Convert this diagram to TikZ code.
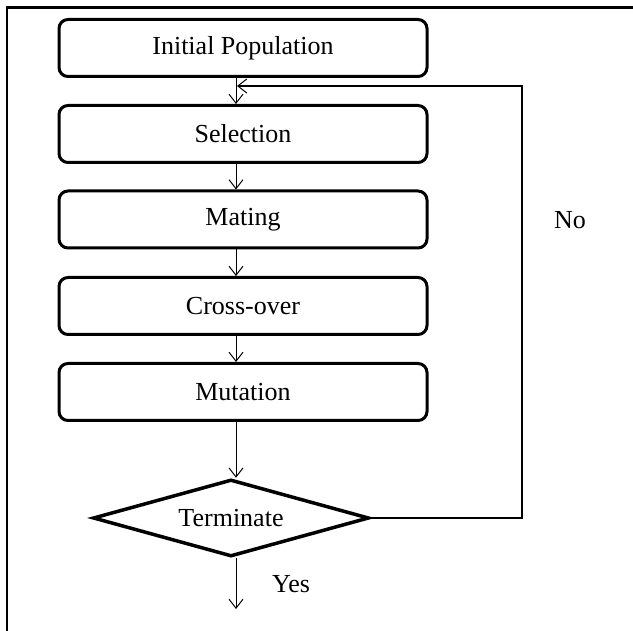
\documentclass[tikz,border=0pt]{standalone}
\usepackage{fontspec}
\setmainfont{Liberation Serif}
\usetikzlibrary{shapes.geometric,arrows.meta}
\begin{document}
\begin{tikzpicture}[x=1pt,y=-1pt,
  txt/.style={font=\fontsize{26}{30}\selectfont},
  stepbox/.style={draw,txt,line width=3pt,rounded corners=9pt,minimum width=368pt,minimum height=57pt,inner sep=0pt},
  decision/.style={draw,txt,shape=diamond,aspect=3.6,line width=3.5pt,minimum width=276pt,minimum height=77pt,inner sep=0pt},
  arr/.style={line width=1pt,-{Straight Barb[length=9pt,width=14pt,line width=1pt]}},
  lbl/.style={txt,inner sep=0pt}]
\useasboundingbox (0,0) rectangle (633,631);
\draw[line width=2.2pt] (7,631) -- (7,7.5) -- (633,7.5);
\node[stepbox] (ip) at (243,48) {Initial Population};
\node[stepbox] (sel) at (243,134) {Selection};
\node[stepbox] (mat) at (243,219.5) {Mating};
\node[stepbox] (cro) at (243,306) {Cross-over};
\node[stepbox] (mut) at (243,392) {Mutation};
\node[decision] (dia) at (231,518) {Terminate};
\coordinate (fb) at (522,86);
\coordinate (join) at (237,86);
\coordinate (yesend) at (236,609);
\draw[arr] ([xshift=-7pt]ip.south) -- ([xshift=-7pt]sel.north);
\draw[arr] ([xshift=-7pt]sel.south) -- ([xshift=-7pt]mat.north);
\draw[arr] ([xshift=-7pt]mat.south) -- ([xshift=-7pt]cro.north);
\draw[arr] ([xshift=-7pt]cro.south) -- ([xshift=-7pt]mut.north);
\draw[arr] ([xshift=-7pt]mut.south) -- ([xshift=-7pt]mut.south |- dia.north);
\draw[arr] (yesend |- dia.south) -- (yesend);
\draw[arr,line width=1.2pt] (dia.east) -| (fb) -- (join);
\node[lbl] (no) at (570,220) {No};
\node[lbl] (yes) at (291,584) {Yes};
\end{tikzpicture}
\end{document}
